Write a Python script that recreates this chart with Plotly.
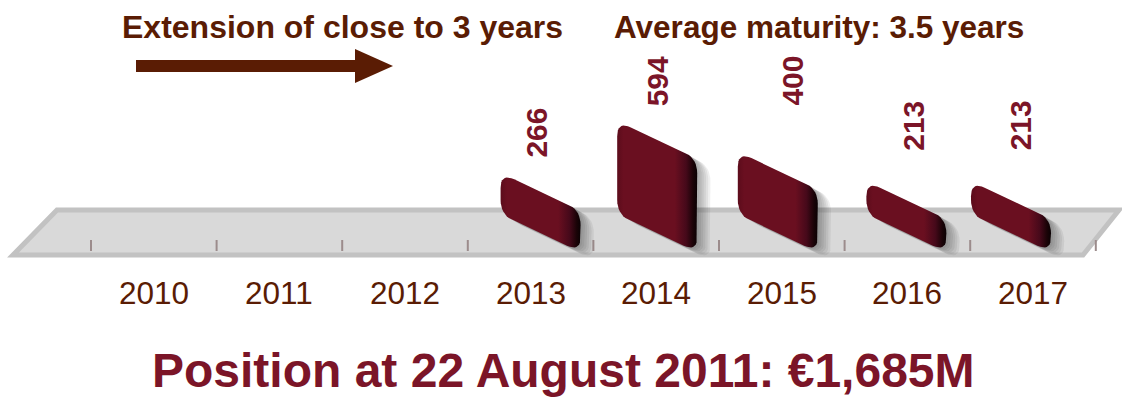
import numpy as np
import plotly.graph_objects as go

# ---- data -------------------------------------------------------------
years = ["2010", "2011", "2012", "2013", "2014", "2015", "2016", "2017"]
maturity_years = ["2013", "2014", "2015", "2016", "2017"]
amounts = [266, 594, 400, 213, 213]          # EUR M maturing per year

title_left = "Extension of close to 3 years"
title_right = "Average maturity: 3.5 years"
footer = "Position at 22 August 2011: €1,685M"

# ---- layout constants --------------------------------------------------
W, H = 1122, 397
X0, DX = 153.8, 125.6      # pixel x = X0 + DX * category index
Y0, K = 215.0, 0.158       # pixel y (from top) = Y0 - K * value

BAR_W = 80                 # bar width, px
SLANT = 37                 # oblique drop of the bar across its width, px
RADIUS = 15                # corner rounding, px
# perspective nudges (px) of each bar and its label
BAR_SHIFT = {"2013": 10, "2014": 1, "2015": -4, "2016": -1, "2017": -22}
LABEL_SHIFT = {"2013": -4, "2014": 0, "2015": 15, "2016": 7, "2017": 9}
LABEL_LIFT = {"2013": 13, "2014": 13, "2015": 44, "2016": 29, "2017": 29}

BROWN = "#5a1c04"
CRIMSON = "#7b1528"
FONT = "Liberation Sans, Arial, sans-serif"

x_range = [-X0 / DX, (W - X0) / DX]
y_range = [(Y0 - H) / K, Y0 / K]


def px_x(x):
    return X0 + DX * np.asarray(x, dtype=float)


def px_y(y):
    return Y0 - K * np.asarray(y, dtype=float)


def dx_(px):
    return (np.asarray(px, dtype=float) - X0) / DX


def dy_(py):
    return (Y0 - np.asarray(py, dtype=float)) / K


def rounded(pts, r, n=10):
    """Rounded polygon (pixel space) using quadratic corners."""
    pts = [np.array(p, dtype=float) for p in pts]
    m = len(pts)
    out = []
    for i in range(m):
        p0, p1, p2 = pts[i - 1], pts[i], pts[(i + 1) % m]
        d0, d2 = p0 - p1, p2 - p1
        rr = min(r, np.linalg.norm(d0) / 2, np.linalg.norm(d2) / 2)
        a = p1 + d0 / np.linalg.norm(d0) * rr
        b = p1 + d2 / np.linalg.norm(d2) * rr
        for t in np.linspace(0, 1, n):
            out.append((1 - t) ** 2 * a + 2 * (1 - t) * t * p1 + t ** 2 * b)
    out.append(out[0])
    return np.array(out)


fig = go.Figure()

# ---- floor platform ----------------------------------------------------
floor_px = [(57, 210), (1119, 210), (1083, 255), (13, 255)]
floor_path = "M " + " L ".join(f"{dx_(x):.4f},{dy_(y):.2f}" for x, y in floor_px) + " Z"
fig.add_shape(type="path", path=floor_path, xref="x", yref="y",
              fillcolor="#d9d9d9", line=dict(color="#c2c2c2", width=5), layer="below")

# category separators on the floor
for i in range(len(years) + 1):
    xb = i - 0.5
    fig.add_shape(type="line", x0=xb, x1=xb, y0=dy_(240), y1=dy_(251),
                  xref="x", yref="y", line=dict(color="#9c8c8c", width=2), layer="below")

# ---- bars --------------------------------------------------------------
half = BAR_W / 2 / DX
drop = SLANT / K
for yr, v in zip(maturity_years, amounts):
    i = years.index(yr)
    c = i + BAR_SHIFT[yr] / DX
    corners = [(c - half, v), (c + half, v - drop), (c + half, -drop), (c - half, 0)]
    pix = [(float(px_x(x)), float(px_y(y))) for x, y in corners]
    outline = rounded(pix, RADIUS)

    # soft drop shadow
    for k in range(1, 7):
        sx, sy = 2.2 * k, 1.3 * k
        fig.add_trace(go.Scatter(
            x=dx_(outline[:, 0] + sx), y=dy_(outline[:, 1] + sy),
            mode="lines", fill="toself", line=dict(width=0),
            fillcolor="rgba(40,40,40,0.075)", hoverinfo="skip", showlegend=False))

    fig.add_trace(go.Scatter(
        x=dx_(outline[:, 0]), y=dy_(outline[:, 1]),
        mode="lines", fill="toself", line=dict(width=0, color="#6a0f20"),
        fillcolor="#6a0f20",
        fillgradient=dict(type="horizontal", colorscale=[
            [0.0, "#5c0c1b"], [0.08, "#6a0f20"], [0.72, "#6a0f20"],
            [0.86, "#46091a"], [0.95, "#1a0307"], [1.0, "#0a0103"]]),
        hovertemplate=f"{yr}: {v}<extra></extra>", showlegend=False))

    # value label
    fig.add_annotation(x=c + LABEL_SHIFT[yr] / DX, y=v, xref="x", yref="y",
                       text=f"<b>{v}</b>", textangle=-90, showarrow=False,
                       yanchor="bottom", yshift=LABEL_LIFT[yr] * 1.0,
                       font=dict(family=FONT, size=30, color=CRIMSON))

# ---- year labels -------------------------------------------------------
for i, yr in enumerate(years):
    fig.add_annotation(x=i, y=dy_(293), xref="x", yref="y", text=yr,
                       showarrow=False, font=dict(family=FONT, size=31.5, color=BROWN))

# ---- headings and arrow ------------------------------------------------
fig.add_annotation(x=dx_(342), y=dy_(27), xref="x", yref="y",
                   text=f"<b>{title_left}</b>", showarrow=False,
                   font=dict(family=FONT, size=32, color=BROWN))
fig.add_annotation(x=dx_(819), y=dy_(27), xref="x", yref="y",
                   text=f"<b>{title_right}</b>", showarrow=False,
                   font=dict(family=FONT, size=31.5, color=BROWN))
fig.add_shape(type="rect", x0=dx_(136), x1=dx_(358), y0=dy_(60), y1=dy_(72),
              xref="x", yref="y", fillcolor=BROWN, line=dict(width=0))
arrow_head = [(355, 49), (393, 66), (355, 83)]
fig.add_shape(type="path", xref="x", yref="y", fillcolor=BROWN, line=dict(width=0),
              path="M " + " L ".join(f"{dx_(x):.4f},{dy_(y):.2f}" for x, y in arrow_head) + " Z")

fig.add_annotation(x=dx_(563), y=dy_(370), xref="x", yref="y",
                   text=f"<b>{footer}</b>", showarrow=False,
                   font=dict(family=FONT, size=48, color=CRIMSON))

fig.update_layout(
    width=W, height=H, margin=dict(l=0, r=0, t=0, b=0),
    paper_bgcolor="white", plot_bgcolor="white", showlegend=False,
    xaxis=dict(range=x_range, visible=False, fixedrange=True),
    yaxis=dict(range=y_range, visible=False, fixedrange=True),
)

fig.write_html("out.html")
